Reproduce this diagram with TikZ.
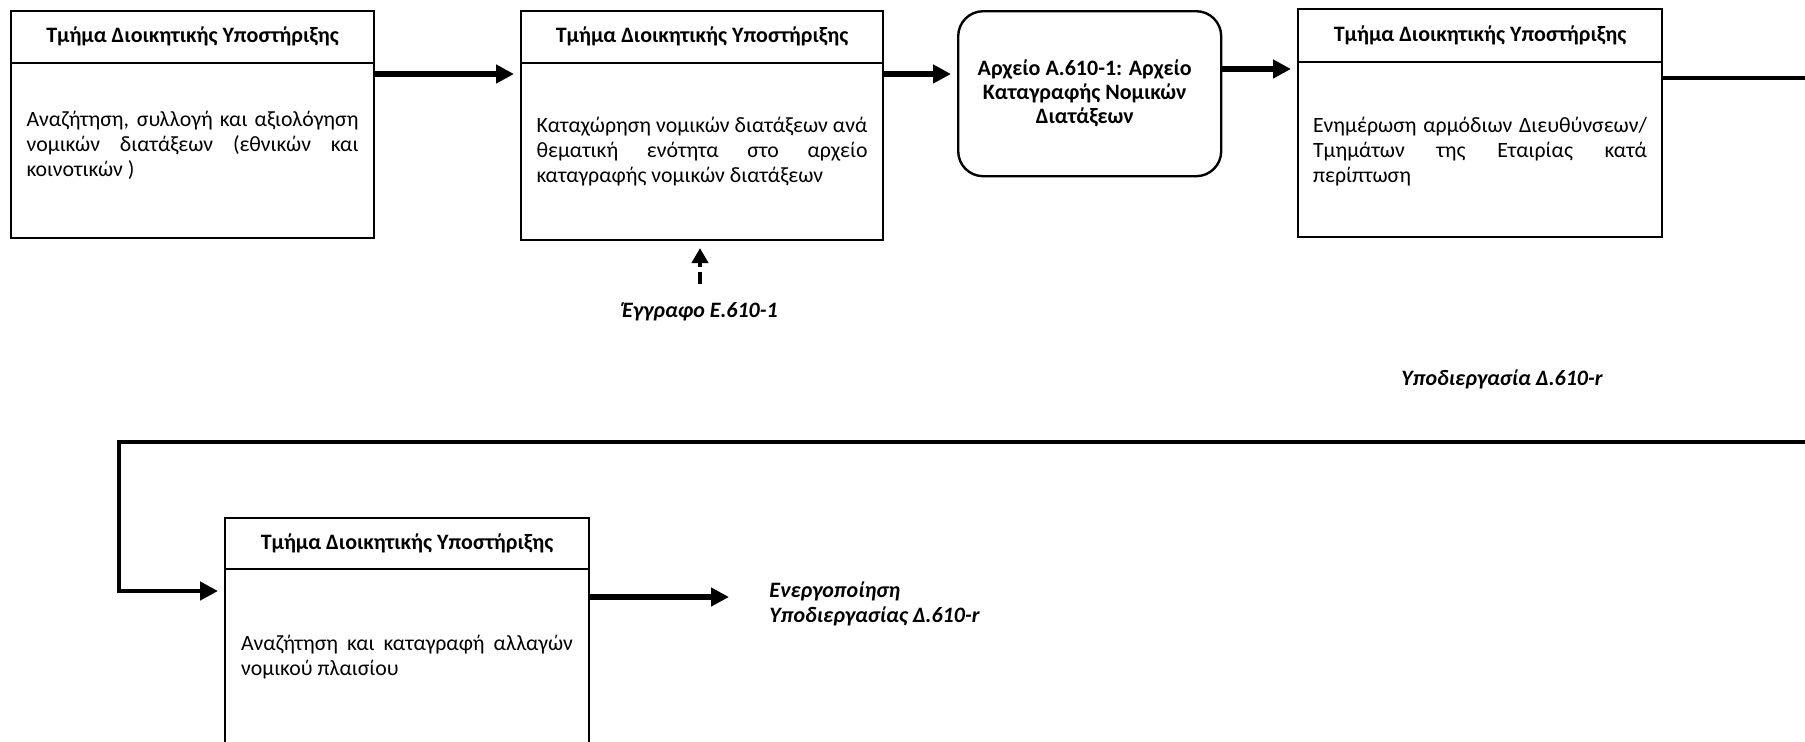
\documentclass[tikz,border=0pt]{standalone}
\usepackage{fontspec}
\setmainfont{Carlito}
\usetikzlibrary{arrows.meta}
\begin{document}
\begin{tikzpicture}[x=0.5pt,y=-0.5pt,
  frame/.style={draw, line width=1pt, anchor=north west, inner sep=0pt},
  rule/.style={line width=1pt},
  title/.style={font=\bfseries\fontsize{11}{12.5}\selectfont, inner sep=0pt},
  body/.style={font=\fontsize{10.9}{12.5}\selectfont, align=justify, inner sep=0pt,
    execute at begin node={\hyphenpenalty=10000\exhyphenpenalty=10000}},
  label/.style={font=\bfseries\itshape\fontsize{11}{12.5}\selectfont, inner sep=0pt},
  flow/.style={line width=3pt, -{Triangle[length=9pt,width=9pt]}, shorten >=3pt},
  loop/.style={line width=2.2pt, -{Triangle[length=9pt,width=9pt]}, shorten >=3pt},
  docarrow/.style={line width=2pt, dash pattern=on 6pt off 2.5pt,
    -{Triangle[length=7.5pt,width=8pt]}}
]
\useasboundingbox (0,0) rectangle (1805,741);
\clip (0,0) rectangle (1805,741);

% first process box
\node[frame, minimum width=181.5pt, minimum height=113.5pt] (b1) at (10,10) {};
\draw[rule] ([yshift=-26.5pt]b1.north west) -- ([yshift=-26.5pt]b1.north east);
\node[title] (b1t) at ([yshift=-13.25pt]b1.north) {Τμήμα Διοικητικής Υποστήριξης};
\node[body, text width=166pt] (b1b) at ([yshift=-67.5pt]b1.north)
  {Αναζήτηση, συλλογή και αξιολόγηση\linebreak νομικών διατάξεων (εθνικών και\linebreak κοινοτικών )};

% second process box
\node[frame, minimum width=181pt, minimum height=114.5pt] (b2) at (520,10) {};
\draw[rule] ([yshift=-26.5pt]b2.north west) -- ([yshift=-26.5pt]b2.north east);
\node[title] (b2t) at ([yshift=-13.25pt]b2.north) {Τμήμα Διοικητικής Υποστήριξης};
\node[body, text width=165.5pt] (b2b) at ([yshift=-71pt]b2.north)
  {Καταχώρηση νομικών διατάξεων ανά\linebreak θεματική ενότητα στο αρχείο\linebreak καταγραφής νομικών διατάξεων};

% archive record
\node[draw, line width=1.2pt, rounded corners=12.5pt, anchor=north west,
  minimum width=131.5pt, minimum height=82.5pt, inner sep=0pt] (rb) at (957,10) {};
\node[font=\bfseries\fontsize{11}{12}\selectfont, align=center, inner sep=0pt] (rbt) at ([xshift=-2.5pt]rb.center)
  {Αρχείο Α.610-1: Αρχείο\\Καταγραφής Νομικών\\Διατάξεων};

% third process box
\node[frame, minimum width=182pt, minimum height=114pt] (b4) at (1297,8) {};
\draw[rule] ([yshift=-27pt]b4.north west) -- ([yshift=-27pt]b4.north east);
\node[title] (b4t) at ([yshift=-13.5pt]b4.north) {Τμήμα Διοικητικής Υποστήριξης};
\node[body, text width=167pt] (b4b) at ([yshift=-72pt]b4.north)
  {Ενημέρωση αρμόδιων Διευθύνσεων/\linebreak Τμημάτων της Εταιρίας κατά\linebreak περίπτωση};

% fourth process box
\node[frame, minimum width=182pt, minimum height=120pt] (b5) at (224,517) {};
\draw[rule] ([yshift=-26pt]b5.north west) -- ([yshift=-26pt]b5.north east);
\node[title] (b5t) at ([yshift=-13pt]b5.north) {Τμήμα Διοικητικής Υποστήριξης};
\node[body, text width=166pt] (b5b) at ([yshift=-70pt]b5.north)
  {Αναζήτηση και καταγραφή αλλαγών\linebreak νομικού πλαισίου};

% labels
\node[label] (doc) at (700,312) {Έγγραφο Ε.610-1};
\node[label] (sub) at (1502,379) {Υποδιεργασία Δ.610-r};
\node[label, anchor=west, align=left] (act) at (769,603.5)
  {Ενεργοποίηση\\Υποδιεργασίας Δ.610-r};
\coordinate (far1) at (1830,78);
\coordinate (far2) at (1830,442);
\coordinate (turn1) at (119,442);
\coordinate (turn2) at (119,591);

% connectors
\draw[flow] (b1.east |- 0,74) -- (b2.west |- 0,74);
\draw[flow] (b2.east |- 0,74) -- (rb.west |- 0,74);
\draw[flow] (rb.east |- 0,69) -- (b4.west |- 0,69);
\draw[docarrow, shorten <=9pt, shorten >=3.5pt] (doc.north) -- (doc.north |- b2.south);
\draw[loop, line join=miter] (b4.east |- far1) -- (far1) -- (far2) -- (turn1) -- (turn2) -- (b5.west |- turn2);
\draw[flow, shorten >=20pt] (b5.east |- 0,597) -- (act.west |- 0,597);
\end{tikzpicture}
\end{document}
